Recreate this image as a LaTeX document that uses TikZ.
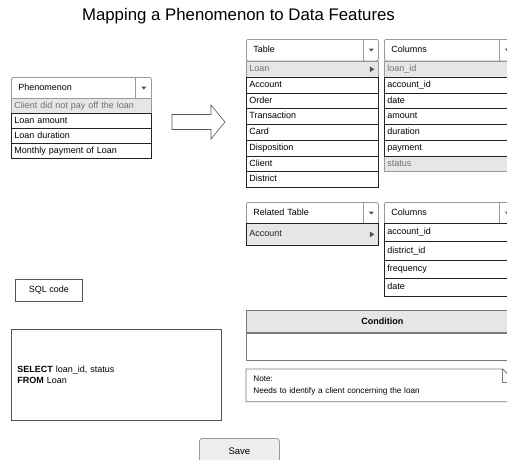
\documentclass[tikz,border=0pt]{standalone}
\usepackage{fontspec}
\setmainfont{Liberation Sans}
\usetikzlibrary{calc}
\definecolor{framegray}{HTML}{999999}
\definecolor{rowline}{HTML}{222222}
\definecolor{selfill}{HTML}{E6E6E6}
\definecolor{seltext}{HTML}{707070}
\definecolor{caretgray}{HTML}{555555}
\definecolor{btnfill}{HTML}{EEEEEE}
\definecolor{condline}{HTML}{7A7A7A}
\begin{document}
\begin{tikzpicture}[x=1pt,y=-1pt,line width=0.8pt,
  every node/.style={font=\fontsize{9}{11}\selectfont},
  hdrbox/.style={draw=framegray, fill=white, rounded corners=2pt, anchor=north west,
    inner xsep=7pt, inner ysep=0pt, minimum height=21.5pt, align=left,
    text height=6.6pt, text depth=1.9pt},
  plainrow/.style={draw=rowline, fill=white, anchor=north west, inner xsep=3pt,
    inner ysep=0pt, align=left, text height=6.6pt, text depth=1.9pt},
  selrow/.style={plainrow, draw=framegray, fill=selfill, text=seltext},
  sepline/.style={draw=framegray, line width=0.8pt},
  caret/.style={fill=caretgray, draw=none},
  button/.style={draw=#1, anchor=north west, inner sep=0pt}]

\useasboundingbox (0,0) rectangle (507,459);
\clip (0,0) rectangle (507,459);

% heading
\node[anchor=base, font=\fontsize{16.8}{20}\selectfont] (title) at (238.5,20)
  {Mapping a Phenomenon to Data Features};

% ---- phenomenon drop-down ----
\node[hdrbox, text width=126pt] (phhdr) at (11,77) {Phenomenon};
\draw[sepline] ([xshift=-16pt]phhdr.north east) -- ([xshift=-16pt]phhdr.south east);
\fill[caret] ([xshift=-10.5pt,yshift=1.5pt]phhdr.east) -- ++(5,0) -- ++(-2.5,3) -- cycle;
\node[selrow, text width=134pt, minimum height=15pt] (ph0) at (11,98) {Client did not pay off the loan};
\foreach \t [count=\i] in {Loan amount, Loan duration, Monthly payment of Loan}
  \node[plainrow, text width=134pt, minimum height=15pt] (ph\i) at (11,{98+15*\i}) {\t};

% block arrow
\draw[draw=caretgray, line width=0.6pt] (172,114.5) -- (211,114.5) -- (211,105) -- (225,122)
  -- (211,139) -- (211,129.5) -- (172,129.5) -- cycle;

% ---- table drop-down ----
\node[hdrbox, text width=118pt] (tabhdr) at (246,39) {Table};
\draw[sepline] ([xshift=-15pt]tabhdr.north east) -- ([xshift=-15pt]tabhdr.south east);
\fill[caret] ([xshift=-10pt,yshift=1.5pt]tabhdr.east) -- ++(5,0) -- ++(-2.5,3) -- cycle;
\node[selrow, text width=126pt, minimum height=15.75pt] (tab0) at (246,61) {Loan};
\foreach \t [count=\i] in {Account,Order,Transaction,Card,Disposition,Client,District}
  \node[plainrow, text width=126pt, minimum height=15.75pt] (tab\i) at (246,{61+15.75*\i}) {\t};
\fill[caret] ([xshift=-9pt]tab0.east) ++(0,-3) -- ++(4.5,3) -- ++(-4.5,3) -- cycle;

% ---- columns of the chosen table ----
\node[hdrbox, text width=116pt] (colhdr) at (384,39) {Columns};
\draw[sepline] ([xshift=-15pt]colhdr.north east) -- ([xshift=-15pt]colhdr.south east);
\fill[caret] ([xshift=-10pt,yshift=1.5pt]colhdr.east) -- ++(5,0) -- ++(-2.5,3) -- cycle;
\node[selrow, text width=124pt, minimum height=15.75pt] (col0) at (384,61) {loan\_id};
\node[selrow, text width=124pt, minimum height=15.75pt] (col6) at (384,{61+15.75*6}) {status};
\foreach \t [count=\i] in {account\_id,date,amount,duration,payment}
  \node[plainrow, text width=124pt, minimum height=15.75pt] (col\i) at (384,{61+15.75*\i}) {\t};

% ---- related table drop-down ----
\node[hdrbox, text width=118pt] (relhdr) at (246,202) {Related Table};
\draw[sepline] ([xshift=-15pt]relhdr.north east) -- ([xshift=-15pt]relhdr.south east);
\fill[caret] ([xshift=-10pt,yshift=1.5pt]relhdr.east) -- ++(5,0) -- ++(-2.5,3) -- cycle;
\node[selrow, text=rowline, draw=rowline, text width=126pt, minimum height=22pt] (rel0) at (246,223) {Account};
\fill[caret] ([xshift=-9pt]rel0.east) ++(0,-3) -- ++(4.5,3) -- ++(-4.5,3) -- cycle;

% ---- columns of the related table ----
\node[hdrbox, text width=116pt] (rchdr) at (384,202) {Columns};
\draw[sepline] ([xshift=-15pt]rchdr.north east) -- ([xshift=-15pt]rchdr.south east);
\fill[caret] ([xshift=-10pt,yshift=1.5pt]rchdr.east) -- ++(5,0) -- ++(-2.5,3) -- cycle;
\foreach \t [count=\i from 0] in {account\_id,district\_id,frequency,date}
  \node[plainrow, text width=124pt, minimum height=18.25pt] (rc\i) at (384,{223+18.25*\i}) {\t};

% ---- condition panel ----
\node[draw=condline, fill=selfill, anchor=north west, minimum width=272pt, minimum height=22pt,
  inner sep=0pt, font=\fontsize{9}{11}\selectfont\bfseries] (condhdr) at (246,310) {Condition};
\node[draw=condline, anchor=north west, minimum width=272pt, minimum height=27pt, inner sep=0pt]
  (condbody) at (condhdr.south west) {};

% ---- note with folded corner ----
\node[anchor=north west, text width=255pt, minimum height=32pt, inner xsep=7pt, inner ysep=0pt,
  align=left, font=\fontsize{8.2}{11.5}\selectfont] (note) at (246,369)
  {Note:\\Needs to identify a client concerning the loan};
\draw[draw=condline] (note.north west) -- ([xshift=-13pt]note.north east)
  -- ([yshift=-13pt]note.north east) -- (note.south east) -- (note.south west) -- cycle;
\draw[draw=condline] ([xshift=-13pt]note.north east) -- ([xshift=-13pt,yshift=-13pt]note.north east)
  -- ([yshift=-13pt]note.north east);

% ---- SQL area ----
\node[button=caretgray, minimum width=67pt, minimum height=22pt] (sqlbtn) at (15,279) {SQL code};
\node[draw=caretgray, anchor=north west, text width=198pt, minimum height=91pt, inner xsep=6pt,
  inner ysep=0pt, align=left] (sqlbox) at (11,329)
  {\textbf{SELECT} loan\_id, status\\\textbf{FROM} Loan};

% ---- save button ----
\node[button=framegray, fill=btnfill, rounded corners=3pt, minimum width=80pt, minimum height=26pt,
  font=\fontsize{9.5}{11}\selectfont] (save) at (199,438) {Save};

\end{tikzpicture}
\end{document}
